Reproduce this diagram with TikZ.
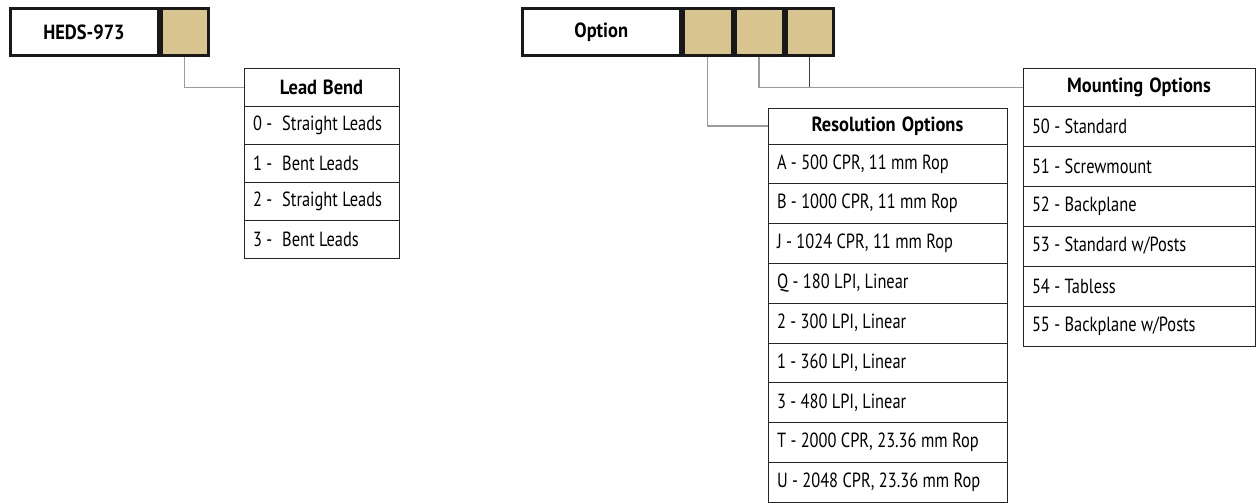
\documentclass[tikz,border=0pt]{standalone}
\usepackage{fontspec}
\setmainfont[FakeStretch=0.8, BoldFeatures={FakeStretch=0.9}]{PT Sans}
\usetikzlibrary{positioning}
\definecolor{tan}{RGB}{216,196,142}
\definecolor{linkgray}{RGB}{155,155,155}
\tikzset{
  codebox/.style={draw=black!90, line width=3pt, minimum height=47pt, anchor=north west, inner sep=0pt, font=\bfseries},
  tancell/.style={codebox, fill=tan},
  tabcell/.style={draw=black!85, line width=1pt, anchor=north west, inner xsep=9pt, inner ysep=0pt, align=left,
    execute at begin node={\spaceskip=4.4pt plus 2pt minus 1pt\relax}},
  tabhead/.style={tabcell, font=\bfseries, align=center},
  link/.style={draw=linkgray, line width=1.2pt},
  stub/.style={draw=black!75, line width=1.2pt}
}
\begin{document}
\fontsize{20.5}{23}\selectfont
\begin{tikzpicture}[x=1pt,y=-1pt]
\useasboundingbox (0,0) rectangle (1256,503);
% part number boxes
\node[codebox, minimum width=148pt] (heds) at (8.5,7.5) {HEDS-973};
\node[tancell, minimum width=47pt] (hedscell) at (heds.north east) {};
\node[codebox, minimum width=158.5pt] (option) at (520.5,7.5) {Option};
\node[tancell, minimum width=48.5pt] (optA) at (option.north east) {};
\node[tancell, minimum width=48pt] (optB) at (optA.north east) {};
\node[tancell, minimum width=47pt] (optC) at (optB.north east) {};
% lead bend table
\node[tabhead, text width=137pt, minimum height=37pt] (lbhead) at (243.5,68.5) {Lead Bend};
\foreach \t [count=\i] in {0 -\hspace{10pt}Straight Leads, 1 -\hspace{10pt}Bent Leads, 2 -\hspace{10pt}Straight Leads, 3 -\hspace{10pt}Bent Leads}
  \node[tabcell, text width=137pt, minimum height=38pt] (lb\i) at (243.5,{105.5+38*(\i-1)}) {\t};
% resolution table
\node[tabhead, text width=221pt, minimum height=36pt] (reshead) at (767.5,107.5) {Resolution Options};
\foreach \t [count=\i] in {{A - 500 CPR, 11 mm Rop}, {B - 1000 CPR, 11 mm Rop}, {J - 1024 CPR, 11 mm Rop},
    {Q - 180 LPI, Linear}, {2 - 300 LPI, Linear}, {1 - 360 LPI, Linear}, {3 - 480 LPI, Linear},
    {T - 2000 CPR, 23.36 mm Rop}, {U - 2048 CPR, 23.36 mm Rop}}
  \node[tabcell, text width=221pt, minimum height=39.8pt] (res\i) at (767.5,{143.5+39.8*(\i-1)}) {\t};
% mounting table
\node[tabhead, text width=214pt, minimum height=37pt] (mnthead) at (1022.5,68.5) {Mounting Options};
\foreach \t [count=\i] in {50 - Standard, 51 - Screwmount, 52 - Backplane, 53 - Standard w/Posts, 54 - Tabless, 55 - Backplane w/Posts}
  \node[tabcell, text width=214pt, minimum height=40pt] (mnt\i) at (1022.5,{105.5+40*(\i-1)}) {\t};
% connectors
\draw[link] (hedscell.south) |- (lbhead.west);
\draw[link] (optA.south) |- (reshead.west);
\draw[link] (optB.south) |- (mnthead.west);
\draw[stub] (optC.south) -- (optC.south |- mnthead.west);
\end{tikzpicture}
\end{document}
